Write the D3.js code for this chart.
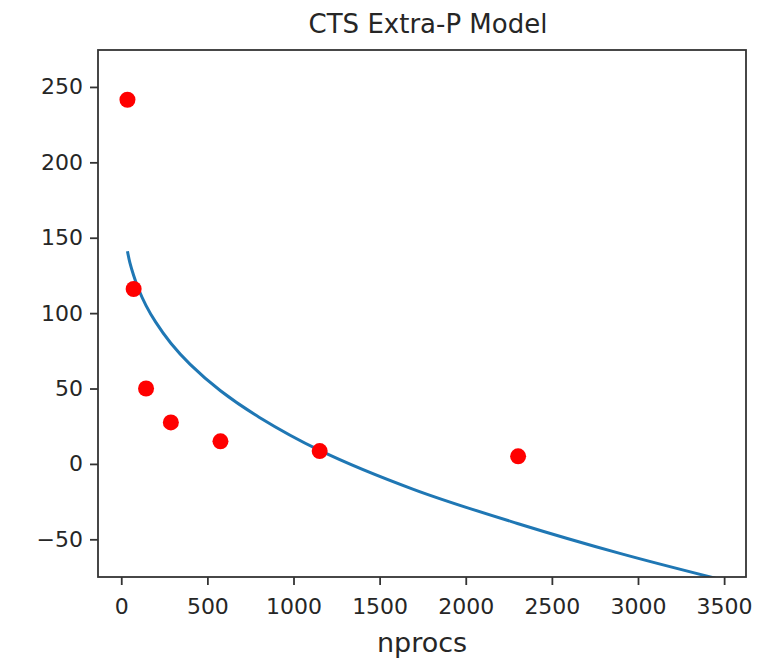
<!DOCTYPE html>
<html>
<head>
<meta charset="utf-8">
<script src="https://cdn.jsdelivr.net/npm/d3@7"></script>
<style>
  html, body { margin: 0; padding: 0; background: #fff; }
  svg { display: block; font-family: "DejaVu Sans", sans-serif; }
</style>
</head>
<body>
<svg id="chart" width="774" height="663"></svg>
<script>
// Measured runtimes per process count
const nprocs = [36, 72, 144, 288, 576, 1152, 2304];
const runtime = [241.5, 116, 50, 27.5, 15, 8.5, 5];

// Extra-P model curve, sampled along the process range
const modelX = [36, 50, 72, 100, 144, 200, 288, 400, 576, 800, 1152, 1700, 2300, 2900, 3456];
const modelY = [141, 133.5, 125, 116, 105, 94, 80, 66, 48.5, 31, 9, -17, -39.5, -59.5, -76];

// Axis ticks
const xTicks = [0, 500, 1000, 1500, 2000, 2500, 3000, 3500];
const yTicks = [-50, 0, 50, 100, 150, 200, 250];

const titleText = "CTS Extra-P Model";
const xLabelText = "nprocs";

const svg = d3.select("#chart");
const plot = { left: 98, right: 746, top: 50, bottom: 577 };

const x = d3.scaleLinear().domain([-135, 3627]).range([plot.left, plot.right]);
const y = d3.scaleLinear().domain([-75, 274.5]).range([plot.bottom, plot.top]);

svg.append("defs").append("clipPath").attr("id", "plotClip")
  .append("rect")
  .attr("x", plot.left).attr("y", plot.top)
  .attr("width", plot.right - plot.left).attr("height", plot.bottom - plot.top);

// Model line
const line = d3.line()
  .x((d, i) => x(modelX[i]))
  .y((d, i) => y(modelY[i]))
  .curve(d3.curveCatmullRom.alpha(0.5));

svg.append("path")
  .datum(modelY)
  .attr("clip-path", "url(#plotClip)")
  .attr("d", line)
  .attr("fill", "none")
  .attr("stroke", "#1f77b4")
  .attr("stroke-width", 3);

// Measurement points
svg.append("g").selectAll("circle")
  .data(runtime)
  .join("circle")
  .attr("cx", (d, i) => x(nprocs[i]))
  .attr("cy", d => y(d))
  .attr("r", 8)
  .attr("fill", "#ff0000");

// Axes
const fmt = d3.format("d");
const xAxis = svg.append("g")
  .attr("transform", `translate(0,${plot.bottom})`)
  .call(d3.axisBottom(x).tickValues(xTicks).tickFormat(fmt).tickSizeOuter(0).tickSize(8).tickPadding(13));
const yAxis = svg.append("g")
  .attr("transform", `translate(${plot.left},0)`)
  .call(d3.axisLeft(y).tickValues(yTicks).tickFormat(fmt).tickSizeOuter(0).tickSize(8).tickPadding(7));

[xAxis, yAxis].forEach(g => {
  g.select(".domain").remove();
  g.selectAll(".tick line").attr("stroke", "#333").attr("stroke-width", 1.8);
  g.selectAll(".tick text")
    .attr("fill", "#262626")
    .style("font-size", "22px")
    .style("font-family", "'DejaVu Sans', sans-serif");
});

// Frame
svg.append("rect")
  .attr("x", plot.left).attr("y", plot.top)
  .attr("width", plot.right - plot.left).attr("height", plot.bottom - plot.top)
  .attr("fill", "none")
  .attr("stroke", "#333")
  .attr("stroke-width", 1.8);

// Title and axis label
svg.append("text")
  .attr("x", 428)
  .attr("y", 33)
  .attr("text-anchor", "middle")
  .attr("fill", "#262626")
  .style("font-size", "26px")
  .text(titleText);

svg.append("text")
  .attr("x", (plot.left + plot.right) / 2)
  .attr("y", 652)
  .attr("text-anchor", "middle")
  .attr("fill", "#262626")
  .style("font-size", "27px")
  .text(xLabelText);
</script>
</body>
</html>
